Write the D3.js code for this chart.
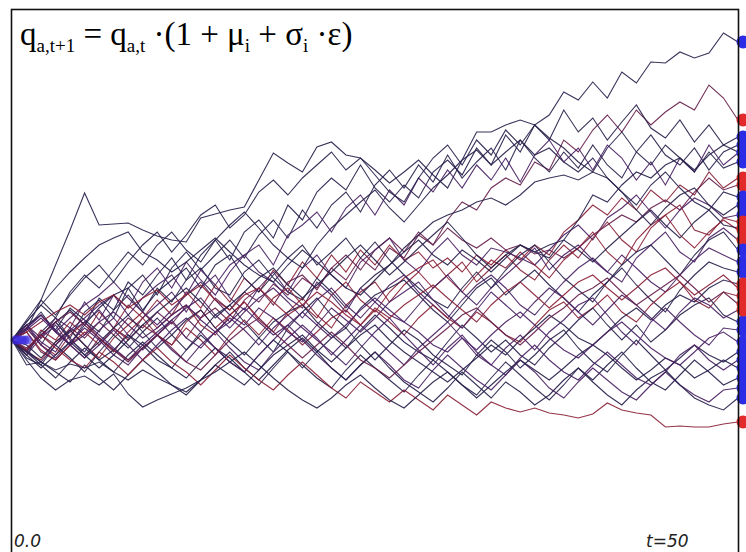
<!DOCTYPE html>
<html>
<head>
<meta charset="utf-8">
<script src="https://cdn.jsdelivr.net/npm/d3@7"></script>
<style>
  body { margin: 0; background: #fff; }
  svg { display: block; }
  .formula { font-family: "Liberation Serif", "Times New Roman", serif; fill: #000; }
  .corner { font-family: "DejaVu Sans", sans-serif; font-style: italic; font-size: 17px; fill: #222; }
</style>
</head>
<body>
<svg width="746" height="552"></svg>
<script>
// time steps t = 0..50
const steps = d3.range(0, 51);

// simulated quantities q(a,t), one array per agent
const quantities = [
  [210,220,250,285,320,357,325,326,327,320, 314,310,308,332,336,340,343,370,397,387, 378,403,408,395,392,380,367,378,390,375, 362,390,418,418,425,430,425,435,458,450, 468,452,478,467,488,487,498,492,497,517, 508],
  [210,200,215,205,222,212,228,215,232,222, 238,226,244,232,252,240,258,248,266,255, 272,262,282,270,292,280,302,292,315,305, 330,348,340,362,372,365,388,380,410,398, 420,435,418,440,425,438,448,440,465,452, 430],
  [210,225,205,228,240,225,252,240,268,255, 275,292,270,295,310,290,318,330,312,345, 330,358,372,360,385,362,348,365,352,378, 390,375,402,385,415,398,425,410,440,418, 432,410,428,445,422,412,430,408,425,405, 413],
  [210,195,218,232,212,238,250,232,262,275, 255,282,298,280,295,310,292,315,330,312, 340,322,345,358,338,365,380,362,385,368, 395,372,388,402,380,410,392,378,398,382, 405,385,372,398,415,395,385,402,380,398, 405],
  [210,225,212,232,222,248,230,255,242,268, 282,262,288,270,255,278,295,305,285,315, 325,338,318,342,355,335,360,345,372,358, 380,362,385,370,392,368,395,410,388,402, 380,405,392,370,388,365,392,378,405,385, 397],
  [210,198,220,210,228,215,238,222,245,232, 250,235,258,242,265,248,272,258,280,265, 288,272,295,278,300,285,305,290,298,282, 292,278,295,285,300,290,305,295,318,330, 345,335,352,340,360,348,365,355,378,362, 372],
  [210,218,198,190,205,192,212,200,188,202, 215,228,212,232,242,228,250,262,245,268, 275,260,282,295,280,300,312,298,318,305, 322,310,302,312,300,305,296,300,292,302, 315,325,335,328,342,350,340,358,372,360, 365],
  [210,225,235,220,242,230,218,240,255,238, 262,248,270,282,262,255,278,290,272,258, 250,272,258,242,262,275,285,302,315,328, 335,340,348,352,345,355,368,372,375,370, 378,372,358,345,365,378,362,348,340,358, 353],
  [210,195,212,225,205,228,240,222,212,232, 245,258,238,262,275,252,240,262,278,258, 282,295,275,262,288,300,312,290,278,298, 312,295,285,302,298,292,285,300,315,325, 310,332,342,355,338,322,340,352,345,332, 335],
  [210,222,205,195,215,228,212,198,218,232, 215,205,228,240,222,235,248,230,218,238, 252,235,222,245,258,268,248,265,278,262, 275,288,268,282,295,280,270,290,305,292, 312,328,310,298,322,335,345,320,315,332, 328],
  [210,198,190,208,220,205,192,212,225,238, 222,235,245,225,215,235,248,232,252,262, 245,232,255,268,250,238,258,272,282,290, 272,258,275,290,282,298,285,272,290,302, 318,298,285,310,325,335,315,302,318,330, 320],
  [210,225,208,198,220,232,245,255,235,252, 265,275,255,280,265,285,295,278,268,252, 242,268,255,238,262,248,235,228,245,262, 275,258,245,262,275,288,302,280,295,305, 290,278,268,292,305,318,298,288,312,322, 310],
  [210,222,238,218,205,225,242,255,262,240, 258,270,282,262,285,295,272,258,275,292, 305,285,298,312,292,308,290,275,262,250, 242,262,278,262,280,295,305,288,272,260, 248,268,285,298,305,290,275,295,310,318, 300],
  [210,198,215,228,210,198,220,232,215,200, 215,230,242,252,235,222,238,252,262,248, 232,250,262,245,232,248,265,275,258,245, 232,250,265,275,262,245,235,252,268,282, 292,278,295,282,268,258,275,290,302,295, 288],
  [210,192,185,205,192,178,198,215,202,218, 232,215,200,218,235,245,228,212,198,222, 238,252,235,222,242,255,262,270,255,240, 228,245,262,272,255,268,280,265,252,238, 255,268,282,265,250,238,260,275,288,282, 278],
  [210,218,200,190,205,218,205,222,210,225, 215,205,222,210,195,215,230,215,232,220, 205,218,232,240,225,240,228,215,232,245, 232,222,238,228,215,208,225,240,248,232, 242,255,238,228,245,258,268,250,242,258, 254],
  [210,200,215,228,212,195,208,222,235,218, 202,215,230,240,222,208,195,212,228,238, 245,228,215,202,220,235,222,208,198,190, 208,225,212,198,210,195,185,202,215,230, 242,225,210,225,208,220,235,245,252,235, 228],
  [210,222,205,192,208,222,210,195,185,202, 215,200,188,205,218,202,188,180,198,212, 225,212,195,210,225,212,198,185,202,215, 228,212,195,185,202,215,200,218,230,245, 252,235,218,205,228,242,228,215,205,222, 220],
  [210,205,192,208,220,205,190,200,215,205, 190,182,200,215,202,188,178,195,210,198, 182,198,212,222,205,190,205,220,210,195, 185,175,195,210,198,182,195,210,220,202, 188,178,195,210,195,180,192,205,195,188, 198],
  [210,198,188,205,218,228,215,202,190,205, 218,230,212,202,218,232,220,205,222,235, 222,210,198,185,202,218,232,215,200,185, 202,215,198,185,175,192,205,190,178,170, 185,198,185,172,165,178,195,205,190,180, 190],
  [210,198,185,172,188,202,190,178,195,208, 195,182,172,188,202,192,178,165,182,198, 185,172,162,180,195,182,170,158,175,190, 178,165,155,172,188,175,162,150,165,182, 170,185,198,182,168,160,175,190,178,165, 172],
  [210,222,235,220,205,192,205,220,205,190, 205,220,232,218,202,188,178,195,210,225, 210,195,182,170,185,198,185,170,162,180, 195,182,170,160,175,190,178,162,152,168, 182,170,158,150,165,178,165,155,148,160, 162],
  [210,200,188,178,168,185,172,160,175,190, 178,165,155,170,185,198,182,170,185,200, 212,198,182,170,185,198,182,168,158,148, 162,178,165,152,168,158,145,155,170,182, 168,155,145,160,172,180,165,152,145,140, 152],
  [210,200,215,202,190,182,198,188,175,190, 202,188,178,165,180,195,182,170,160,175, 188,175,162,152,168,158,148,160,150,140, 155,145,135,148,142,138,142,137,135,132, 136,147,140,137,135,123,124,123,123,126, 128],
  [210,190,172,160,170,174,165,176,156,143, 150,156,162,170,178,188,198,185,172,160, 150,142,152,165,175,162,150,142,155,168, 178,165,152,165,178,190,180,170,182,195, 205,195,182,170,180,192,185,172,180,190, 182],
  [210,185,188,180,186,182,188,178,170,180, 172,165,158,170,185,175,165,180,195,205, 215,200,188,202,215,225,210,198,188,178, 168,180,192,205,195,210,222,235,225,212, 205,218,232,242,230,245,255,248,262,270, 266],
  [210,228,245,232,258,275,262,280,298,285, 305,318,300,288,310,325,338,322,305,292, 282,305,322,335,348,360,342,328,345,362, 375,390,400,385,398,410,395,402,388,378, 392,372,358,340,325,342,355,362,345,335, 345],
  [210,222,235,218,232,245,255,268,252,238, 225,240,255,268,250,235,225,242,232,218, 208,225,242,230,218,232,248,258,268,250, 235,222,240,258,245,232,248,262,252,238, 225,240,255,245,232,220,238,252,245,232, 240],
  [210,230,250,235,255,272,285,268,288,305, 318,298,315,335,345,322,335,358,370,355, 372,385,398,380,392,375,358,348,372,392, 405,385,410,395,420,405,425,412,402,388, 378,402,418,398,385,405,392,378,398,382, 388],
  [210,218,228,238,245,235,248,255,242,252, 260,245,255,265,250,240,255,262,248,235, 245,258,248,235,225,242,232,245,255,265, 252,240,228,245,258,268,255,242,255,268, 275,262,250,262,275,282,268,255,265,275, 262],
  [210,228,245,262,278,292,305,312,318,298, 290,278,288,300,312,298,285,275,268,285, 300,288,275,262,255,270,285,298,310,295, 285,300,290,278,292,305,298,292,310,330, 355,348,365,378,372,385,392,380,395,405, 398],
  [210,220,232,218,205,215,228,238,225,212, 222,235,245,230,218,228,242,228,215,225, 238,225,212,225,240,252,240,228,218,205, 198,212,200,215,228,238,225,212,200,192, 205,218,228,215,202,192,185,198,212,218, 208],
  [210,195,182,195,208,195,182,195,210,225, 238,250,262,248,232,245,258,272,282,265, 252,265,278,292,305,290,275,288,302,315, 328,312,295,282,295,305,298,305,310,300, 288,302,315,328,340,325,312,328,340,325, 322],
  [210,202,215,228,238,225,212,200,190,202, 215,202,188,180,195,210,222,232,218,205, 192,205,218,205,190,182,172,185,198,210, 222,235,242,228,215,205,218,232,242,255, 262,272,258,245,255,265,275,262,248,258, 246]
];

// colour family of each path, and colour of its end marker
const lineTone = ["navy","plum","navy","navy","purple","red","plum","navy","purple","red",
                  "red","purple","navy","purple","navy","red","navy","purple","navy","purple",
                  "navy","purple","navy","red","navy","navy","navy","purple","navy","red",
                  "navy","purple","navy","plum"];
const endTone = ["blue","red","blue","blue","blue","red","red","blue","blue","red",
                 "red","red","blue","blue","blue","red","blue","blue","blue","blue",
                 "blue","blue","blue","red","blue","red","blue","red","blue","red",
                 "blue","blue","red","red"];

const toneColor = {navy: "#28224c", purple: "#4a2264", plum: "#66204c", red: "#8a2238",
                   blue: "#2c2ce6", red2: "#e22a2a"};

const svg = d3.select("svg");
const width = 746, height = 552;

const x = d3.scaleLinear().domain([0, 50]).range([12, 738]);
const y = d3.scaleLinear().domain([0, 540]).range([550, 10]);

svg.append("rect")
    .attr("width", width).attr("height", height)
    .attr("fill", "#fff");

const line = d3.line()
    .x((d, i) => x(steps[i]))
    .y(d => y(d));

const g = svg.append("g");

g.selectAll("path.walk").data(quantities)
  .enter().append("path")
    .attr("class", "walk")
    .attr("d", line)
    .attr("fill", "none")
    .attr("stroke", (d, i) => toneColor[lineTone[i]])
    .attr("stroke-width", 1.1)
    .attr("opacity", 0.92);

// bluish blob where all paths leave the start value
g.selectAll("circle.start").data(quantities.slice(0, 6))
  .enter().append("circle")
    .attr("class", "start")
    .attr("cx", (d, i) => x(0) + 3 + i * 2.5)
    .attr("cy", d => y(d[0]))
    .attr("r", 4.5)
    .attr("fill", "#3a2ae0")
    .attr("opacity", 0.6);

// end markers, half hidden behind the right frame
g.selectAll("circle.end").data(quantities)
  .enter().append("circle")
    .attr("class", "end")
    .attr("cx", x(50) + 5)
    .attr("cy", d => y(d[d.length - 1]))
    .attr("r", 6.5)
    .attr("fill", (d, i) => endTone[i] === "red" ? toneColor.red2 : toneColor.blue);

// frame
svg.append("rect")
    .attr("x", 11.5).attr("y", 9.5)
    .attr("width", 727).attr("height", 545)
    .attr("fill", "none")
    .attr("stroke", "#111")
    .attr("stroke-width", 1.6);

// formula
const f = svg.append("text")
    .attr("class", "formula")
    .attr("x", 20).attr("y", 45)
    .attr("font-size", 33);
f.append("tspan").text("q");
f.append("tspan").attr("font-size", 19).attr("dy", 7).text("a,t+1");
f.append("tspan").attr("dy", -7).text(" = q");
f.append("tspan").attr("font-size", 19).attr("dy", 7).text("a,t");
f.append("tspan").attr("dy", -7).text(" \u00b7(1 + \u03bc");
f.append("tspan").attr("font-size", 19).attr("dy", 7).text("i");
f.append("tspan").attr("dy", -7).text(" + \u03c3");
f.append("tspan").attr("font-size", 19).attr("dy", 7).text("i");
f.append("tspan").attr("dy", -7).text(" \u00b7\u03b5)");

svg.append("text")
    .attr("class", "corner")
    .attr("x", 14).attr("y", 547)
    .text("0.0");

svg.append("text")
    .attr("class", "corner")
    .attr("x", 646).attr("y", 547)
    .text("t=50");
</script>
</body>
</html>
